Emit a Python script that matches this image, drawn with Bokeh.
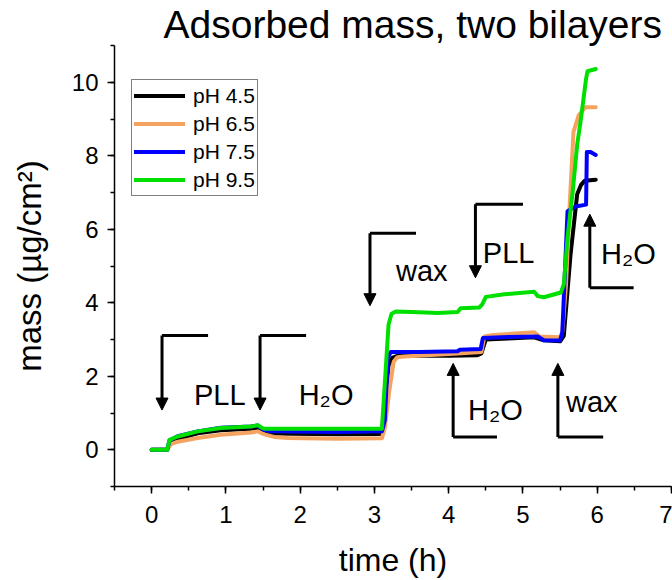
from bokeh.plotting import figure
from bokeh.models import (Range1d, SingleIntervalTicker, Legend, LegendItem,
                          ColumnDataSource, Arrow, NormalHead)
from bokeh.core.properties import value
from bokeh.embed import file_html
from bokeh.resources import INLINE

FONT = "Liberation Sans"

# ---- data (time in h, adsorbed mass in ug/cm^2) ----
t_ph45 = [0, 0.21, 0.25, 0.35, 0.62, 0.93, 1.34, 1.43, 1.52, 1.6, 2.5, 3.10, 3.14, 3.19, 3.24,
          3.30, 3.6, 4.0, 4.38, 4.44, 4.50, 4.8, 5.15, 5.28, 5.50, 5.55, 5.64, 5.73, 5.78, 5.83, 5.98]
m_ph45 = [0, 0, 0.2, 0.3, 0.45, 0.53, 0.57, 0.6, 0.47, 0.44, 0.42, 0.43, 1.2, 2.3, 2.5,
          2.55, 2.56, 2.56, 2.57, 2.62, 3.0, 3.03, 3.06, 2.98, 2.95, 3.1, 5.3, 6.95, 7.2, 7.32, 7.35]

t_ph65 = [0, 0.21, 0.26, 0.35, 0.62, 0.93, 1.34, 1.43, 1.52, 1.65, 1.84, 2.5, 3.10, 3.14, 3.2,
          3.26, 3.31, 3.4, 4.12, 4.44, 4.48, 4.6, 5.15, 5.22, 5.5, 5.53, 5.58, 5.62, 5.68, 5.75, 5.84, 5.98]
m_ph65 = [0, 0, 0.15, 0.22, 0.32, 0.41, 0.47, 0.5, 0.42, 0.35, 0.32, 0.3, 0.31, 0.6, 1.6,
          2.4, 2.52, 2.54, 2.62, 2.66, 3.08, 3.12, 3.2, 3.08, 3.06, 3.2, 4.5, 6.3, 8.65, 9.1, 9.32, 9.32]

t_ph75 = [0, 0.21, 0.24, 0.35, 0.62, 0.93, 1.34, 1.43, 1.5, 1.6, 2.5, 3.10, 3.14, 3.18, 3.22,
          3.6, 4.12, 4.15, 4.43, 4.46, 4.8, 5.2, 5.28, 5.5, 5.53, 5.60, 5.71, 5.85, 5.86, 5.91, 5.98]
m_ph75 = [0, 0, 0.25, 0.37, 0.5, 0.6, 0.63, 0.66, 0.55, 0.5, 0.48, 0.5, 0.8, 2.5, 2.66,
          2.66, 2.68, 2.72, 2.74, 3.04, 3.07, 3.08, 2.98, 2.97, 3.2, 6.49, 6.62, 6.67, 8.1, 8.1, 8.02]

t_ph95 = [0, 0.21, 0.24, 0.35, 0.62, 0.93, 1.34, 1.43, 1.48, 1.52, 2.5, 3.10, 3.13, 3.19, 3.23,
          3.29, 3.6, 3.85, 4.12, 4.16, 4.41, 4.45, 4.50, 4.75, 5.15, 5.2, 5.28, 5.51, 5.55, 5.60,
          5.67, 5.73, 5.78, 5.85, 5.87, 5.98]
m_ph95 = [0, 0, 0.27, 0.36, 0.5, 0.59, 0.63, 0.67, 0.6, 0.57, 0.57, 0.57, 1.5, 3.4, 3.7,
          3.76, 3.74, 3.72, 3.75, 3.85, 3.87, 3.95, 4.16, 4.23, 4.3, 4.18, 4.15, 4.28, 4.5, 5.77,
          7.03, 8.3, 9.0, 10.1, 10.3, 10.36]

series_names = ["pH 4.5", "pH 6.5", "pH 7.5", "pH 9.5"]
series_colors = ["#000000", "#F4A460", "#0000FF", "#00E000"]

# ---- step annotations: arrow x, arrow start, arrow tip, bar end x, label ----
ann_t = [0.14, 1.46, 2.94, 4.36, 4.06, 5.47, 5.90]
ann_from = [3.11, 3.11, 5.89, 6.68, 0.35, 0.35, 4.41]
ann_to = [1.08, 1.08, 3.92, 4.68, 2.35, 2.35, 6.41]
ann_bar_end = [0.76, 2.08, 3.56, 5.00, 4.65, 6.08, 6.49]
ann_text = ["PLL", "H₂O", "wax", "PLL", "H₂O", "wax", "H₂O"]
ann_text_t = [0.57, 1.98, 3.29, 4.46, 4.26, 5.58, 6.05]
ann_text_m = [1.49, 1.49, 4.86, 5.35, 1.08, 1.30, 5.32]

p = figure(width=672, height=580, x_range=Range1d(-0.5, 7), y_range=Range1d(-1, 11),
           output_backend="svg", toolbar_location=None,
           min_border_left=114, min_border_right=1, min_border_top=43, min_border_bottom=93)
p.grid.visible = False
p.outline_line_color = None
p.background_fill_color = "white"
p.border_fill_color = "white"

p.title.text = "Adsorbed mass, two bilayers"
p.title.align = "left"
p.title.offset = 49
p.title.standoff = 0
p.title.text_font = FONT
p.title.text_font_size = "39px"
p.title.text_font_style = "normal"
p.title.text_color = "black"

xs = [t_ph45, t_ph65, t_ph75, t_ph95]
ys = [m_ph45, m_ph65, m_ph75, m_ph95]
renderers = []
for x, y, c in zip(xs, ys, series_colors):
    r = p.line(x, y, line_color=c, line_width=4, line_join="round", line_cap="round")
    renderers.append(r)

# annotations
p.segment(x0=ann_t, y0=ann_from, x1=ann_bar_end, y1=ann_from, line_color="black", line_width=3)
arr_src = ColumnDataSource(dict(x_start=ann_t, y_start=ann_from, x_end=ann_t, y_end=ann_to))
p.add_layout(Arrow(source=arr_src, x_start="x_start", y_start="y_start", x_end="x_end", y_end="y_end",
                   line_width=3, line_color="black",
                   end=NormalHead(size=12, fill_color="black", line_color="black", line_width=1)))
txt_src = ColumnDataSource(dict(x=ann_text_t, y=ann_text_m, text=ann_text))
p.text(x="x", y="y", text="text", source=txt_src, text_font=value(FONT),
       text_font_size=value("29px"), text_baseline="alphabetic", text_align="left", text_color="black")

# axes
for ax in (p.xaxis[0], p.yaxis[0]):
    ax.axis_line_width = 1.5
    ax.major_tick_line_width = 1.5
    ax.minor_tick_line_width = 1.5
    ax.major_tick_in = 0
    ax.major_tick_out = 7
    ax.minor_tick_in = 0
    ax.minor_tick_out = 4
    ax.major_label_text_font = FONT
    ax.major_label_text_font_size = "24px"
    ax.major_label_text_color = "black"
    ax.axis_label_text_font = FONT
    ax.axis_label_text_font_style = "normal"
    ax.axis_label_text_color = "black"

p.xaxis.axis_label_text_font_size = "32px"
p.yaxis.axis_label_text_font_size = "33px"
p.xaxis.ticker = SingleIntervalTicker(interval=1, num_minor_ticks=2)
p.yaxis.ticker = SingleIntervalTicker(interval=2, num_minor_ticks=2)
p.xaxis.bounds = (-0.5, 7)
p.xaxis.axis_label = "time (h)"
p.yaxis.axis_label = "mass (µg/cm²)"
p.xaxis.major_label_standoff = 12
p.yaxis.major_label_standoff = 9
p.xaxis.axis_label_standoff = 16
p.yaxis.axis_label_standoff = 21

legend = Legend(items=[LegendItem(label=n, renderers=[r]) for n, r in zip(series_names, renderers)],
                location=(17, 290), label_text_font=FONT, label_text_font_size="21px",
                label_text_color="black",
                glyph_width=51, glyph_height=27, label_height=27, label_standoff=8,
                padding=2, spacing=1, margin=0, title_standoff=0,
                border_line_color="black", border_line_width=1, background_fill_alpha=1)
p.add_layout(legend)

open("out.html", "w").write(file_html(p, INLINE))
